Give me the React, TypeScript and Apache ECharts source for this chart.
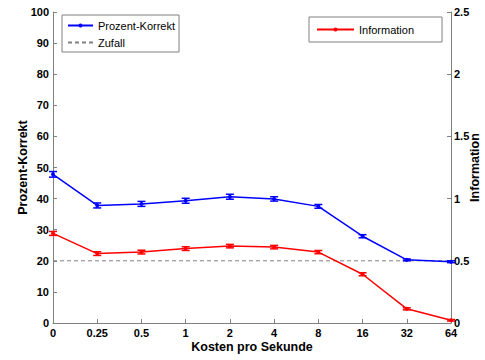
import React, { useEffect, useRef } from "react";
import * as echarts from "echarts";

const categories = ["0", "0.25", "0.5", "1", "2", "4", "8", "16", "32", "64"];
const prozentKorrekt = [47.8, 37.8, 38.3, 39.3, 40.6, 39.9, 37.5, 27.9, 20.3, 19.7];
const prozentErr = [0.9, 0.8, 0.8, 0.8, 0.8, 0.7, 0.6, 0.5, 0.3, 0.3];
const information = [0.72, 0.558, 0.57, 0.598, 0.618, 0.61, 0.57, 0.392, 0.114, 0.022];
const informationErr = [0.016, 0.015, 0.015, 0.015, 0.014, 0.014, 0.013, 0.012, 0.008, 0.006];
const zufall = [20, 20, 20, 20, 20, 20, 20, 20, 20, 20];

const FONT = "Liberation Sans, Arial, Helvetica, sans-serif";

function errorSeries(values: number[], errs: number[], color: string, yAxisIndex: number) {
  return {
    type: "custom",
    yAxisIndex,
    silent: true,
    z: 3,
    data: values.map((v, i) => [i, v - errs[i], v + errs[i]]),
    renderItem: (params: any, api: any) => {
      const i = api.value(0);
      const lo = api.coord([i, api.value(1)]);
      const hi = api.coord([i, api.value(2)]);
      const w = 4;
      const style = { stroke: color, lineWidth: 1.5 };
      return {
        type: "group",
        children: [
          { type: "line", shape: { x1: lo[0], y1: lo[1], x2: hi[0], y2: hi[1] }, style },
          { type: "line", shape: { x1: lo[0] - w, y1: lo[1], x2: lo[0] + w, y2: lo[1] }, style },
          { type: "line", shape: { x1: hi[0] - w, y1: hi[1], x2: hi[0] + w, y2: hi[1] }, style },
        ],
      };
    },
  };
}

export default function App() {
  const ref = useRef<HTMLDivElement>(null);
  useEffect(() => {
    if (!ref.current) return;
    document.body.style.margin = "0";
    document.body.style.overflow = "hidden";
    const chart = echarts.init(ref.current, undefined, { renderer: "svg" });
    const axisLine = { show: true, lineStyle: { color: "#808080", width: 1 } };
    const axisTick = { show: true, inside: true, length: 4, lineStyle: { color: "#808080" } };
    const labelStyle = { color: "#000", fontFamily: FONT, fontSize: 11, fontWeight: "bold" as const };
    const nameStyle = { color: "#000", fontFamily: FONT, fontSize: 12.5, fontWeight: "bold" as const };
    chart.setOption({
      animation: false,
      backgroundColor: "#fff",
      textStyle: { fontFamily: FONT },
      grid: { left: 53, right: 34, top: 12, bottom: 37, containLabel: false, outerBoundsMode: "none" },
      legend: [
        {
          data: ["Prozent-Korrekt", { name: "Zufall", itemStyle: { opacity: 0 } }],
          orient: "vertical",
          left: 62,
          top: 15,
          padding: [5, 4, 4, 5],
          itemGap: 6,
          itemWidth: 25,
          itemHeight: 5,
          backgroundColor: "#fff",
          borderColor: "#808080",
          borderWidth: 1,
          borderRadius: 0,
          textStyle: { color: "#000", fontFamily: FONT, fontSize: 11, lineHeight: 10 },
          selectedMode: false,
        },
        {
          data: ["Information"],
          left: 309,
          top: 17,
          padding: [7, 28, 7, 7],
          itemWidth: 37,
          itemHeight: 5,
          backgroundColor: "#fff",
          borderColor: "#808080",
          borderWidth: 1,
          borderRadius: 0,
          textStyle: { color: "#000", fontFamily: FONT, fontSize: 11, lineHeight: 10 },
          selectedMode: false,
        },
      ],
      xAxis: {
        type: "category",
        data: categories,
        boundaryGap: false,
        axisLine,
        axisTick: { ...axisTick, alignWithLabel: true },
        axisLabel: { ...labelStyle, margin: 4 },
        splitLine: { show: false },
        name: "Kosten pro Sekunde",
        nameLocation: "middle",
        nameGap: 17,
        nameMoveOverlap: false,
        nameTextStyle: nameStyle,
      },
      yAxis: [
        {
          type: "value",
          min: 0,
          max: 100,
          interval: 10,
          position: "left",
          axisLine,
          axisTick,
          axisLabel: { ...labelStyle, margin: 4 },
          splitLine: { show: false },
          name: "Prozent-Korrekt",
          nameLocation: "middle",
          nameRotate: 90,
          nameGap: 24,
          nameMoveOverlap: false,
          nameTextStyle: nameStyle,
        },
        {
          type: "value",
          min: 0,
          max: 2.5,
          interval: 0.5,
          position: "right",
          axisLine,
          axisTick,
          axisLabel: { ...labelStyle, margin: 3 },
          splitLine: { show: false },
          name: "Information",
          nameLocation: "middle",
          nameRotate: 90,
          nameGap: 17,
          nameMoveOverlap: false,
          nameTextStyle: nameStyle,
        },
      ],
      series: [
        {
          name: "Zufall",
          type: "line",
          data: zufall,
          symbol: "none",
          lineStyle: { color: "#808080", width: 1, type: [4, 3] },
          itemStyle: { color: "#808080" },
          z: 1,
        },
        {
          name: "Prozent-Korrekt",
          type: "line",
          data: prozentKorrekt,
          symbol: "circle",
          symbolSize: 4,
          lineStyle: { color: "#0000ff", width: 1.5 },
          itemStyle: { color: "#0000ff" },
          z: 4,
        },
        {
          name: "Information",
          type: "line",
          yAxisIndex: 1,
          data: information,
          symbol: "circle",
          symbolSize: 4,
          lineStyle: { color: "#ff0000", width: 1.5 },
          itemStyle: { color: "#ff0000" },
          z: 4,
        },
        errorSeries(prozentKorrekt, prozentErr, "#0000ff", 0),
        errorSeries(information, informationErr, "#ff0000", 1),
      ],
    });
    return () => chart.dispose();
  }, []);
  return <div ref={ref} style={{ width: 485, height: 360, position: "fixed", left: 0, top: 0 }} />;
}
